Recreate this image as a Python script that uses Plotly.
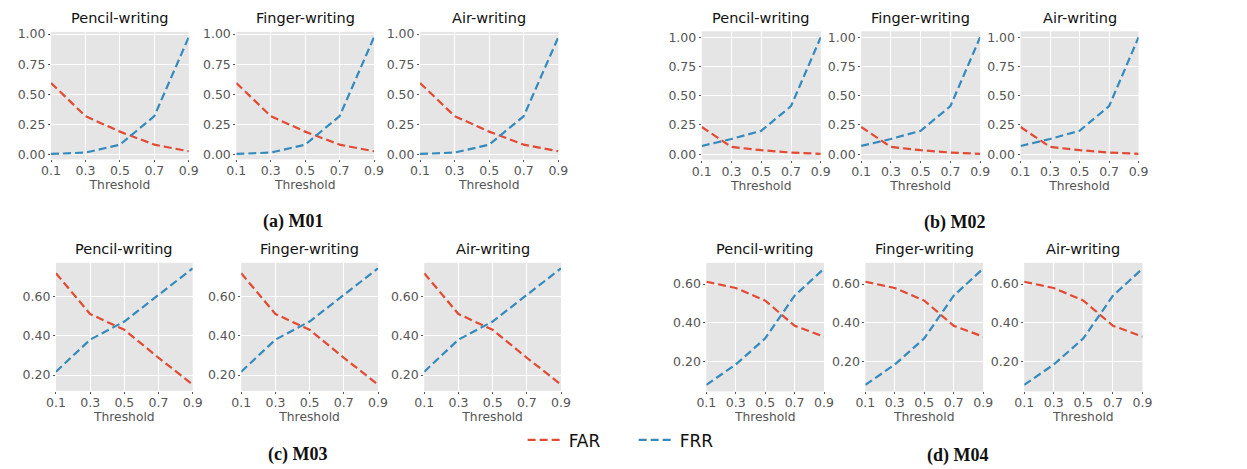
import plotly.graph_objects as go

# ---------------- data ----------------
thresholds = [0.1, 0.3, 0.5, 0.7, 0.9]
x_tick_labels = ["0.1", "0.3", "0.5", "0.7", "0.9"]
modes = ["Pencil-writing", "Finger-writing", "Air-writing"]
group_captions = ["(a) M01", "(b) M02", "(c) M03", "(d) M04"]

far_m01 = [0.594, 0.319, 0.190, 0.082, 0.027]
frr_m01 = [0.005, 0.016, 0.082, 0.319, 0.975]
far_m02 = [0.232, 0.062, 0.034, 0.014, 0.003]
frr_m02 = [0.070, 0.130, 0.200, 0.410, 1.000]
far_m03 = [0.717, 0.510, 0.430, 0.288, 0.152]
frr_m03 = [0.217, 0.380, 0.472, 0.605, 0.742]
far_m04 = [0.612, 0.580, 0.515, 0.385, 0.329]
frr_m04 = [0.080, 0.185, 0.320, 0.540, 0.680]

y_ticks_big = [0.0, 0.25, 0.5, 0.75, 1.0]
y_ticks_small = [0.2, 0.4, 0.6]

far_series = [far_m01, far_m02, far_m03, far_m04]
frr_series = [frr_m01, frr_m02, frr_m03, frr_m04]

# ---------------- layout geometry (pixels) ----------------
W, H = 1247, 469
FAR_COLOR = "#E24A33"
FRR_COLOR = "#348ABD"
BG = "#E5E5E5"
TICK_COLOR = "#555555"

group_x = [
    [(41.7, 181.7), (230.0, 370.0), (416.7, 557.3)],
    [(703.0, 824.0), (865.0, 986.0), (1027.0, 1147.0)],
    [(46.7, 185.7), (235.0, 374.0), (421.0, 560.0)],
    [(707.7, 827.3), (869.3, 989.0), (1030.7, 1151.0)],
]
group_y = [(27.3, 156.7), (26.7, 157.0), (261.7, 391.7), (261.7, 392.3)]
group_yrange = [(-0.04, 1.018), (-0.047, 1.05), (0.12, 0.77), (0.046, 0.71)]
group_yticks = [y_ticks_big, y_ticks_big, y_ticks_small, y_ticks_small]
caption_pos = [(288, 220), (960, 221), (292, 456), (963, 457)]


def px_x(v):
    return v / W


def px_y(v):
    return 1 - v / H


fig = go.Figure()
layout = {}
annotations = []

n = 0
for g in range(4):
    y0, y1 = group_y[g]
    for p in range(3):
        n += 1
        x0, x1 = group_x[g][p]
        suffix = "" if n == 1 else str(n)
        xa = "x" + suffix
        ya = "y" + suffix
        first = (n == 1)
        fig.add_trace(go.Scatter(
            x=thresholds, y=far_series[g], mode="lines", name="FAR",
            line=dict(color=FAR_COLOR, width=2.2, dash="8px,4px"),
            xaxis=xa, yaxis=ya, legendgroup="FAR", showlegend=first,
        ))
        fig.add_trace(go.Scatter(
            x=thresholds, y=frr_series[g], mode="lines", name="FRR",
            line=dict(color=FRR_COLOR, width=2.2, dash="8px,4px"),
            xaxis=xa, yaxis=ya, legendgroup="FRR", showlegend=first,
        ))
        layout["xaxis" + suffix] = dict(
            domain=[px_x(x0), px_x(x1)], anchor=ya, range=[0.1, 0.9],
            tickvals=thresholds, ticktext=x_tick_labels,
            showgrid=True, gridcolor="white", gridwidth=1.3,
            zeroline=False, showline=False,
            ticks="outside", ticklen=2, tickcolor=TICK_COLOR,
            ticklabelstandoff=-2,
            tickfont=dict(family="DejaVu Sans", size=12.5, color=TICK_COLOR),
            title=dict(text="Threshold", standoff=0,
                       font=dict(family="DejaVu Sans", size=12.3, color=TICK_COLOR)),
        )
        layout["yaxis" + suffix] = dict(
            domain=[px_y(y1), px_y(y0)], anchor=xa, range=list(group_yrange[g]),
            tickvals=group_yticks[g], tickformat=".2f",
            showgrid=True, gridcolor="white", gridwidth=1.3,
            zeroline=False, showline=False,
            ticks="outside", ticklen=2, tickcolor=TICK_COLOR,
            tickfont=dict(family="DejaVu Sans", size=12.5, color=TICK_COLOR),
        )
        annotations.append(dict(
            text=modes[p], xref="paper", yref="paper",
            x=px_x((x0 + x1) / 2), y=px_y(y0 - 14),
            xanchor="center", yanchor="middle", showarrow=False,
            font=dict(family="DejaVu Sans", size=14.5, color="#111111"),
        ))
    cx, cy = caption_pos[g]
    annotations.append(dict(
        text="<b>" + group_captions[g] + "</b>", xref="paper", yref="paper",
        x=px_x(cx), y=px_y(cy), xanchor="center", yanchor="middle",
        showarrow=False,
        font=dict(family="Liberation Serif", size=18, color="#111111"),
    ))

fig.update_layout(
    width=W, height=H, autosize=False,
    margin=dict(l=0, r=0, t=0, b=0),
    paper_bgcolor="white", plot_bgcolor=BG,
    annotations=annotations,
    legend=dict(
        orientation="h", x=px_x(521), y=px_y(442),
        xanchor="left", yanchor="middle",
        font=dict(family="DejaVu Sans", size=17, color="#111111"),
        entrywidth=60, entrywidthmode="pixels",
        itemwidth=36, bgcolor="rgba(0,0,0,0)",
    ),
    **layout,
)

fig.write_html(
    "out.html",
    config={"displayModeBar": False, "responsive": False},
    post_script=(
        "document.documentElement.style.margin='0';"
        "document.body.style.margin='0';document.body.style.padding='0';"
        "document.body.style.overflow='hidden';"
        "var d=document.getElementById('{plot_id}');"
        "d.style.position='fixed';d.style.left='0px';d.style.top='0px';"
    ),
)
